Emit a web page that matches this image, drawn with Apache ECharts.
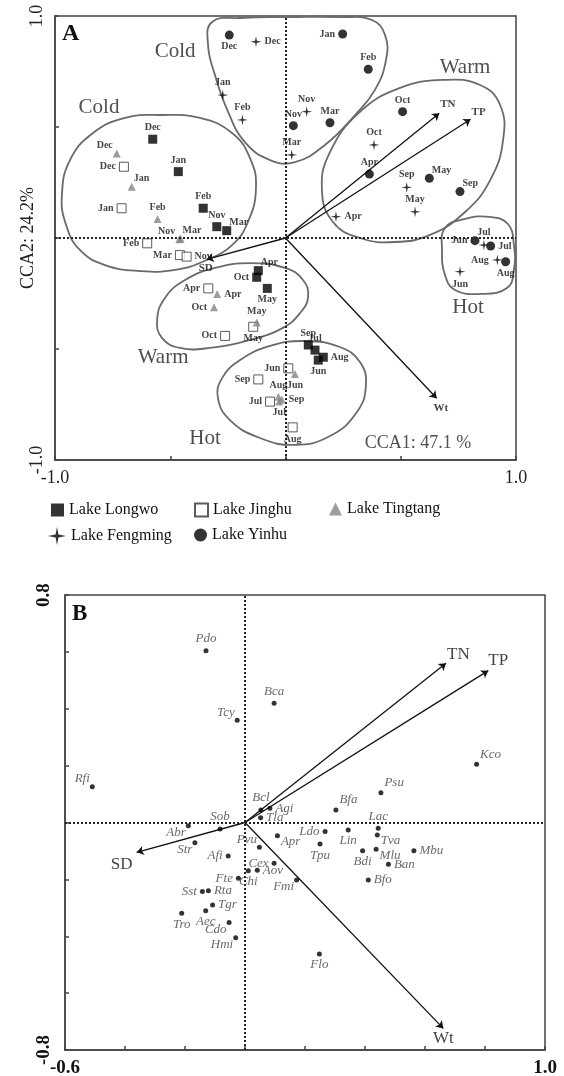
<!DOCTYPE html>
<html>
<head>
<meta charset="utf-8">
<script src="https://cdn.jsdelivr.net/npm/echarts@6/dist/echarts.min.js"></script>
<style>
html,body{margin:0;padding:0;background:#fff;}
#chart{width:564px;height:1076px;}
</style>
</head>
<body>
<div id="chart"></div>
<script>
// ---------- DATA (Panel A: sites by month) ----------
const longwo = [['Dec',-0.576,0.445],['Jan',-0.465,0.299],['Feb',-0.357,0.134],['Nov',-0.298,0.051],['Mar',-0.255,0.033],['Apr',-0.118,-0.147],['Oct',-0.125,-0.177],['May',-0.079,-0.227],['Sep',0.099,-0.482],['Jul',0.128,-0.505],['Aug',0.164,-0.537],['Jun',0.142,-0.550]];
const jinghu = [['Dec',-0.701,0.321],['Jan',-0.711,0.134],['Feb',-0.600,-0.024],['Mar',-0.458,-0.077],['Nov',-0.429,-0.084],['Apr',-0.335,-0.227],['Oct',-0.262,-0.441],['May',-0.140,-0.400],['Sep',-0.118,-0.637],['Jun',0.012,-0.587],['Jul',-0.067,-0.737],['Aug',0.031,-0.853]];
const tingtang = [['Dec',-0.732,0.381],['Jan',-0.667,0.231],['Feb',-0.555,0.086],['Nov',-0.461,-0.006],['Mar',-0.455,-0.003],['Apr',-0.296,-0.252],['Oct',-0.310,-0.312],['May',-0.125,-0.381],['Jun',0.041,-0.613],['Aug',-0.031,-0.715],['Sep',-0.016,-0.727],['Jul',-0.027,-0.737]];
const fengming = [['Dec',-0.128,0.884],['Jan',-0.272,0.644],['Feb',-0.187,0.532],['Nov',0.092,0.569],['Mar',0.027,0.374],['Apr',0.219,0.096],['Oct',0.384,0.419],['May',0.562,0.118],['Sep',0.526,0.228],['Jun',0.757,-0.152],['Jul',0.861,-0.032],['Aug',0.919,-0.099]];
const yinhu = [['Dec',-0.244,0.914],['Jan',0.248,0.919],['Feb',0.359,0.760],['Nov',0.034,0.506],['Mar',0.193,0.519],['Oct',0.508,0.569],['Apr',0.364,0.288],['May',0.624,0.269],['Sep',0.757,0.209],['Jun',0.822,-0.012],['Jul',0.890,-0.036],['Aug',0.955,-0.107]];
// label placement codes (same order as data)
const longwoPos   = ['t','t','t','t','tr','tr','l','b','t','t','r','b'];
const jinghuPos   = ['l','l','l','l','r','l','l','b','l','l','l','b'];
const tingtangPos = ['tl','tr','t','tl','tr','r','l','t','b','t','r','b'];
const fengmingPos = ['r','t','t','t','t','r','t','t','t','b','t','l'];
const yinhuPos    = ['b','l','t','t','t','t','t','tr','tr','l','r','b'];

// environmental arrows (tips)
const arrowsA = [['TN',0.667,0.562],['TP',0.803,0.535],['Wt',0.656,-0.722],['SD',-0.342,-0.096]];
const arrowsB = [['TN',0.670,0.560],['TP',0.811,0.534],['Wt',0.661,-0.724],['SD',-0.361,-0.105]];

// group enclosure outlines (panel A, data coords)
const outlineColdTop = [[-0.319,0.973],[-0.197,0.991],[0.020,0.995],[0.236,0.995],[0.375,0.982],[0.432,0.914],[0.436,0.802],[0.388,0.667],[0.302,0.554],[0.171,0.419],[0.041,0.342],[-0.067,0.351],[-0.176,0.432],[-0.249,0.568],[-0.306,0.734],[-0.336,0.869]];
const outlineColdLeft = [[-0.544,0.554],[-0.371,0.541],[-0.232,0.473],[-0.154,0.360],[-0.128,0.225],[-0.163,0.072],[-0.232,-0.032],[-0.341,-0.099],[-0.479,-0.144],[-0.631,-0.149],[-0.783,-0.122],[-0.892,-0.054],[-0.952,0.059],[-0.970,0.194],[-0.935,0.351],[-0.835,0.473],[-0.696,0.541]];
const outlineWarmRight = [[0.683,0.712],[0.844,0.689],[0.931,0.599],[0.944,0.441],[0.888,0.261],[0.779,0.117],[0.627,0.014],[0.475,-0.018],[0.323,0.000],[0.206,0.072],[0.158,0.216],[0.193,0.387],[0.323,0.568],[0.497,0.676]];
const outlineHotRight = [[0.692,0.045],[0.779,0.086],[0.887,0.095],[0.965,0.063],[0.991,-0.032],[0.991,-0.144],[0.961,-0.225],[0.844,-0.252],[0.735,-0.234],[0.692,-0.167],[0.679,-0.054]];
const outlineWarmMid = [[-0.557,-0.369],[-0.523,-0.270],[-0.436,-0.189],[-0.306,-0.135],[-0.154,-0.113],[-0.002,-0.135],[0.076,-0.189],[0.098,-0.266],[0.063,-0.338],[-0.011,-0.405],[-0.154,-0.459],[-0.328,-0.495],[-0.458,-0.495],[-0.536,-0.450]];
const outlineHotBottom = [[-0.197,-0.550],[-0.067,-0.486],[0.085,-0.464],[0.236,-0.491],[0.323,-0.559],[0.349,-0.662],[0.310,-0.784],[0.193,-0.892],[0.041,-0.932],[-0.111,-0.901],[-0.241,-0.820],[-0.293,-0.721],[-0.275,-0.631]];
const outlinesA = [outlineColdTop, outlineColdLeft, outlineWarmRight, outlineHotRight, outlineWarmMid, outlineHotBottom];

// group text labels (panel A)
const groupLabels = [['Cold',-0.479,0.838],['Cold',-0.809,0.586],['Warm',0.779,0.766],['Warm',-0.531,-0.536],['Hot',-0.349,-0.905],['Hot',0.792,-0.311]];
const axisTitleA = [['CCA1: 47.1 %',0.575,-0.923]];

// ---------- DATA (Panel B: species) ----------
const species = [['Pdo',-0.130,0.604],['Bca',0.097,0.419],['Tcy',-0.026,0.360],['Rfi',-0.509,0.126],['Bcl',0.053,0.044],['Agi',0.083,0.050],['Tla',0.052,0.017],['Sob',-0.083,-0.023],['Abr',-0.189,-0.011],['Str',-0.167,-0.071],['Afi',-0.056,-0.118],['Pvu',0.048,-0.087],['Apr',0.108,-0.047],['Cex',0.097,-0.143],['Aov',0.041,-0.168],['Chi',0.011,-0.170],['Fte',-0.022,-0.196],['Fmi',0.172,-0.202],['Sst',-0.142,-0.243],['Rta',-0.122,-0.240],['Tgr',-0.108,-0.290],['Aec',-0.131,-0.310],['Tro',-0.211,-0.319],['Cdo',-0.053,-0.352],['Hmi',-0.031,-0.405],['Flo',0.248,-0.462],['Ldo',0.267,-0.032],['Lin',0.344,-0.026],['Tpu',0.250,-0.076],['Lac',0.444,-0.020],['Tva',0.441,-0.044],['Bdi',0.392,-0.099],['Mlu',0.437,-0.094],['Ban',0.478,-0.147],['Bfo',0.411,-0.202],['Mbu',0.563,-0.099],['Bfa',0.303,0.044],['Psu',0.453,0.105],['Kco',0.772,0.205]];
const speciesPos = ['t','t','tl','tl','t','r','r','t','bl','bl','l','tl','br','l','r','b','l','bl','l','r','r','b','b','bl','bl','b','l','b','b','t','br','b','br','r','r','r','tr','tr','tr'];

// ---------- STYLE ----------
const FONT = '"Liberation Serif","Times New Roman",serif';
const posA = {
  t:{position:'top',distance:2}, b:{position:'bottom',distance:2},
  l:{position:'left',distance:3}, r:{position:'right',distance:3},
  tl:{position:'left',distance:3,offset:[3,-8]}, tr:{position:'right',distance:3,offset:[-5,-8]},
  bl:{position:'left',distance:3,offset:[3,8]}, br:{position:'right',distance:3,offset:[-5,8]}
};
const posB = {
  t:{position:'top',distance:3}, b:{position:'bottom',distance:2},
  l:{position:'left',distance:3}, r:{position:'right',distance:3},
  tl:{position:'left',distance:2,offset:[2,-8]}, tr:{position:'right',distance:3,offset:[-2,-10]},
  bl:{position:'left',distance:2,offset:[2,7]}, br:{position:'right',distance:3,offset:[-2,6]}
};
const arrowLabA = [
  {position:'right',distance:1,offset:[0,-9]},
  {position:'right',distance:1,offset:[0,-7]},
  {position:'bottom',distance:4,offset:[4,0]},
  {position:'bottom',distance:3,offset:[-1,0]}
];
const arrowLabB = [
  {position:'right',distance:1,offset:[0,-9]},
  {position:'right',distance:0,offset:[0,-10]},
  {position:'bottom',distance:2,offset:[0,0]},
  {position:'bottom',distance:4,offset:[-15,0]}
];
const STAR = 'path://M0,-10L1.6,-1.6L10,0L1.6,1.6L0,10L-1.6,1.6L-10,0L-1.6,-1.6Z';

function lakeSeries(name, arr, pos, symbol, size, itemStyle){
  return {
    type:'scatter', name, xAxisIndex:0, yAxisIndex:0, symbol, symbolSize:size, itemStyle, z:4,
    label:{show:true, formatter:'{b}', fontFamily:FONT, fontWeight:'bold', fontSize:10, color:'#111'},
    data: arr.map((d,i)=>({name:d[0], value:[d[1],d[2]], label:posA[pos[i]]}))
  };
}
const dotted = {type:[2,2], width:2, color:'#222'};
function zeroLines(){
  return {silent:true, symbol:'none', label:{show:false}, lineStyle:dotted, animation:false,
          data:[{xAxis:0},{yAxis:0}]};
}
function endLabels(lo, hi, dec){
  return v => (Math.abs(v-lo)<1e-6 || Math.abs(v-hi)<1e-6) ? v.toFixed(dec) : '';
}
const frame = {show:true, borderColor:'#444', borderWidth:1.5, backgroundColor:'transparent',
               containLabel:false, outerBoundsMode:'none'};
const axisCommon = {
  type:'value', splitLine:{show:false},
  axisLine:{show:true, onZero:false, lineStyle:{color:'#444', width:1.5}},
  axisTick:{show:true, inside:true, length:4, lineStyle:{color:'#444', width:1.5}}
};

const chart = echarts.init(document.getElementById('chart'), null, {renderer:'canvas'});
const option = {
  animation:false,
  backgroundColor:'#fff',
  grid:[
    Object.assign({left:55, top:16, width:461, height:444}, frame),
    Object.assign({left:65, top:595, width:480, height:455}, frame)
  ],
  xAxis:[
    Object.assign({}, axisCommon, {gridIndex:0, min:-1, max:1, interval:0.5,
      axisLabel:{formatter:endLabels(-1,1,1), fontFamily:FONT, fontSize:18, color:'#222', margin:9}}),
    Object.assign({}, axisCommon, {gridIndex:1, min:-0.6, max:1.0, interval:0.2,
      axisLabel:{formatter:endLabels(-0.6,1.0,1), fontFamily:FONT, fontSize:19, fontWeight:'bold', color:'#111', margin:9}})
  ],
  yAxis:[
    Object.assign({}, axisCommon, {gridIndex:0, min:-1, max:1, interval:0.5,
      name:'CCA2: 24.2%', nameLocation:'middle', nameRotate:90, nameGap:18, nameMoveOverlap:false,
      nameTextStyle:{fontFamily:FONT, fontSize:18, color:'#222'},
      axisLabel:{formatter:endLabels(-1,1,1), rotate:90, fontFamily:FONT, fontSize:18, color:'#222', margin:9}}),
    Object.assign({}, axisCommon, {gridIndex:1, min:-0.8, max:0.8, interval:0.2,
      axisLabel:{formatter:endLabels(-0.8,0.8,1), rotate:90, fontFamily:FONT, fontSize:19, fontWeight:'bold', color:'#111', margin:11}})
  ],
  legend:[
    {data:['Lake Longwo'], left:51, top:502},
    {data:['Lake Jinghu'], left:194, top:502},
    {data:['Lake Tingtang'], left:329, top:501},
    {data:['Lake Fengming'], left:48, top:527},
    {data:['Lake Yinhu'], left:194, top:527}
  ].map((l,i)=>Object.assign(l,{
    orient:'horizontal', padding:0, itemGap:0, itemWidth:(i===3?18:13), itemHeight:(i===3?18:13),
    textStyle:{fontFamily:FONT, fontSize:16, color:'#111', padding:[0,0,0,0]}, selectedMode:false
  })),
  graphic:[
    {type:'text', left:62, top:22, style:{text:'A', font:'bold 24px '+FONT, fill:'#111'}},
    {type:'text', left:72, top:603, style:{text:'B', font:'bold 23px '+FONT, fill:'#111'}}
  ],
  series:[
    // outlines
    {type:'custom', name:'outlines', xAxisIndex:0, yAxisIndex:0, silent:true, z:2,
      data: outlinesA.map(o=>o[0]),
      markLine: zeroLines(),
      renderItem:(params, api)=>{
        const pts = outlinesA[params.dataIndex].map(p=>api.coord(p));
        return {type:'polygon', shape:{points:pts, smooth:0.45},
                style:{fill:'none', stroke:'#6a6a6a', lineWidth:1.8}};
      }},
    // arrows A
    {type:'lines', coordinateSystem:'cartesian2d', xAxisIndex:0, yAxisIndex:0, silent:true, z:3,
      symbol:['none','arrow'], symbolSize:7,
      lineStyle:{color:'#111', width:1.3, opacity:1, curveness:0},
      data: arrowsA.map(a=>({coords:[[0,0],[a[1],a[2]]]}))},
    {type:'scatter', name:'arrowLabelsA', xAxisIndex:0, yAxisIndex:0, symbolSize:0, silent:true, z:5,
      label:{show:true, formatter:'{b}', fontFamily:FONT, fontWeight:'bold', fontSize:11, color:'#111'},
      data: arrowsA.map((a,i)=>({name:a[0], value:[a[1],a[2]], label:arrowLabA[i]}))},
    // group labels A
    {type:'scatter', name:'groupLabels', xAxisIndex:0, yAxisIndex:0, symbolSize:0, silent:true, z:5,
      label:{show:true, position:'inside', formatter:'{b}', fontFamily:FONT, fontSize:21, color:'#222'},
      data: groupLabels.map(g=>({name:g[0], value:[g[1],g[2]]}))
        .concat(axisTitleA.map(g=>({name:g[0], value:[g[1],g[2]], label:{fontSize:18}})))},
    lakeSeries('Lake Longwo', longwo, longwoPos, 'rect', 9, {color:'#000'}),
    lakeSeries('Lake Jinghu', jinghu, jinghuPos, 'rect', 9, {color:'#fff', borderColor:'#333', borderWidth:1}),
    lakeSeries('Lake Tingtang', tingtang, tingtangPos, 'triangle', 8, {color:'#858585'}),
    lakeSeries('Lake Fengming', fengming, fengmingPos, STAR, 11, {color:'#000'}),
    lakeSeries('Lake Yinhu', yinhu, yinhuPos, 'circle', 9, {color:'#000'}),
    // Panel B
    {type:'lines', coordinateSystem:'cartesian2d', xAxisIndex:1, yAxisIndex:1, silent:true, z:3,
      symbol:['none','arrow'], symbolSize:7,
      lineStyle:{color:'#111', width:1.3, opacity:1, curveness:0},
      data: arrowsB.map(a=>({coords:[[0,0],[a[1],a[2]]]}))},
    {type:'scatter', name:'arrowLabelsB', xAxisIndex:1, yAxisIndex:1, symbolSize:0, silent:true, z:5,
      label:{show:true, formatter:'{b}', fontFamily:FONT, fontSize:17, color:'#111'},
      data: arrowsB.map((a,i)=>({name:a[0], value:[a[1],a[2]], label:arrowLabB[i]}))},
    {type:'scatter', name:'species', xAxisIndex:1, yAxisIndex:1, symbol:'circle', symbolSize:5, z:4,
      itemStyle:{color:'#000'},
      markLine: zeroLines(),
      label:{show:true, formatter:'{b}', fontFamily:FONT, fontStyle:'italic', fontSize:13, color:'#444'},
      data: species.map((d,i)=>({name:d[0], value:[d[1],d[2]], label:posB[speciesPos[i]]}))}
  ]
};
chart.setOption(option);
</script>
</body>
</html>
